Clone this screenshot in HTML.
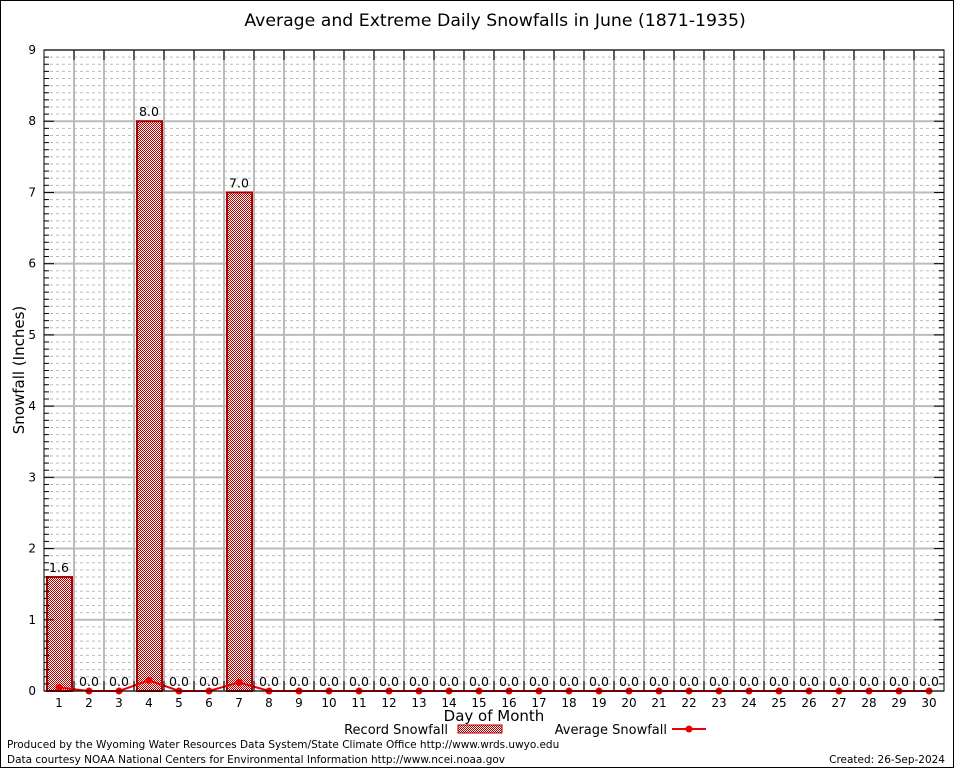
<!DOCTYPE html>
<html><head><meta charset="utf-8"><style>
body{margin:0;background:#fff;}
svg text{font-family:"DejaVu Sans","Liberation Sans",sans-serif;}
</style></head><body>
<svg width="954" height="768" xmlns="http://www.w3.org/2000/svg">
<defs>
<pattern id="hatch" width="2" height="2" patternUnits="userSpaceOnUse">
<rect width="2" height="2" fill="#fff"/>
<rect width="1" height="1" fill="#b00"/><rect x="1" y="1" width="1" height="1" fill="#b00"/>
</pattern>
</defs>
<rect x="0.5" y="0.5" width="953" height="767" fill="#fff" stroke="#000"/>
<text x="495" y="26" font-size="17.3" text-anchor="middle">Average and Extreme Daily Snowfalls in June (1871-1935)</text>
<g id="grid"></g>
<g id="bars"></g>
<g id="avg"></g>
<rect x="44" y="50" width="900" height="641" fill="none" stroke="#000"/>
<g id="axes"></g>
<text x="24" y="370" font-size="15" text-anchor="middle" transform="rotate(-90 24 370)">Snowfall (Inches)</text>
<text x="494" y="721" font-size="15" text-anchor="middle">Day of Month</text>
<g>
<text x="448" y="734" font-size="13" text-anchor="end">Record Snowfall</text>
<rect x="458" y="725" width="44" height="8" fill="url(#hatch)" stroke="#a00"/>
</g>
<g>
<text x="667" y="734" font-size="13" text-anchor="end">Average Snowfall</text>
<line x1="672" y1="729" x2="706" y2="729" stroke="#e00" stroke-width="2"/>
<circle cx="689" cy="729" r="3.5" fill="#e00"/>
</g>
<text x="7" y="748" font-size="10.5">Produced by the Wyoming Water Resources Data System/State Climate Office http://www.wrds.uwyo.edu</text>
<text x="7" y="763" font-size="10.5">Data courtesy NOAA National Centers for Environmental Information http://www.ncei.noaa.gov</text>
<text x="945" y="763" font-size="10.5" text-anchor="end">Created:  26-Sep-2024</text>
</svg>
<script>
const days=[1,2,3,4,5,6,7,8,9,10,11,12,13,14,15,16,17,18,19,20,21,22,23,24,25,26,27,28,29,30];
const recordSnow=[1.6,0,0,8.0,0,0,7.0,0,0,0,0,0,0,0,0,0,0,0,0,0,0,0,0,0,0,0,0,0,0,0];
const avgSnow=[0.05,0,0,0.15,0,0,0.12,0,0,0,0,0,0,0,0,0,0,0,0,0,0,0,0,0,0,0,0,0,0,0];
const yTicks=[0,1,2,3,4,5,6,7,8,9];
const NS="http://www.w3.org/2000/svg";
const L=44,T=50,W=900,H=641,yMax=9;
const xc=d=>L+W/days.length*(d-0.5);
const ys=v=>T+H-v/yMax*H;
function mk(tag,attrs,parent){const e=document.createElementNS(NS,tag);for(const k in attrs)e.setAttribute(k,attrs[k]);parent.appendChild(e);return e;}
const grid=document.getElementById('grid'),bars=document.getElementById('bars'),avg=document.getElementById('avg'),axes=document.getElementById('axes');
const bw=W/days.length;
for(let i=0;i<yMax*10;i++){const v=i/10;if(i%10===0)continue;
 const l=mk('line',{x1:L,x2:L+W,y1:ys(v),y2:ys(v),stroke:'#bbb','stroke-dasharray':'3,3','stroke-width':1},grid);
 
 mk('line',{x1:L,x2:L+5,y1:ys(v),y2:ys(v),stroke:'#000'},axes);
 mk('line',{x1:L+W-5,x2:L+W,y1:ys(v),y2:ys(v),stroke:'#000'},axes);}
yTicks.forEach(v=>{const l=mk('line',{x1:L,x2:L+W,y1:ys(v),y2:ys(v),stroke:'#bbb','stroke-width':2},grid);
 
 mk('line',{x1:L,x2:L+10,y1:ys(v),y2:ys(v),stroke:'#000'},axes);
 mk('line',{x1:L+W-10,x2:L+W,y1:ys(v),y2:ys(v),stroke:'#000'},axes);
 const t=mk('text',{x:L-8,y:ys(v)+4,'font-size':12,'text-anchor':'end','font-family':'Liberation Serif'},axes);t.textContent=v;
 });
days.forEach((d,i)=>{const x=L+bw*i;
 if(i>0){const l=mk('line',{x1:x,x2:x,y1:T,y2:T+H,stroke:'#bbb','stroke-width':2},grid);
 
 mk('line',{x1:x,x2:x,y1:T+H-10,y2:T+H,stroke:'#000'},axes);mk('line',{x1:x,x2:x,y1:T,y2:T+10,stroke:'#000'},axes);}
 const t=mk('text',{x:xc(d),y:T+H+16,'font-size':12,'text-anchor':'middle','font-family':'Liberation Serif'},axes);t.textContent=d;
 
 const v=recordSnow[i];
 if(v>0){const r=mk('rect',{x:xc(d)-12,y:ys(v),width:25,height:ys(0)-ys(v),fill:'url(#hatch)',stroke:'#a00','stroke-width':2},bars);
 }
 const lb=mk('text',{x:xc(d),y:ys(v)-5,'font-size':12.5,'text-anchor':'middle'},bars);lb.textContent=v.toFixed(1);
 });
const pl=mk('polyline',{points:days.map((d,i)=>xc(d)+','+ys(avgSnow[i])).join(' '),fill:'none',stroke:'#e00','stroke-width':2},avg);

days.forEach((d,i)=>{const c=mk('circle',{cx:xc(d),cy:ys(avgSnow[i]),r:3.5,fill:'#e00'},avg);
 });
</script>
</body></html>
